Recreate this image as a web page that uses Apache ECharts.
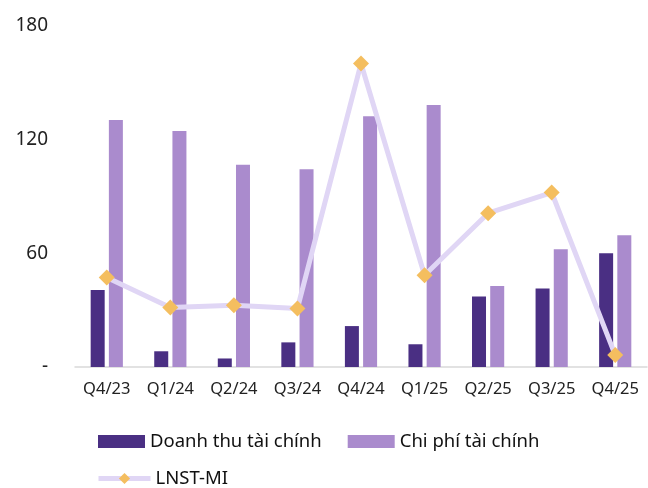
<!DOCTYPE html>
<html>
<head>
<meta charset="utf-8">
<script src="https://cdn.jsdelivr.net/npm/echarts@6/dist/echarts.min.js"></script>
<style>
  html, body { margin: 0; padding: 0; background: #fff; }
  #main { width: 648px; height: 488px; }
</style>
</head>
<body>
<div id="main"></div>
<script>
  // dữ liệu
  const quarters = ['Q4/23', 'Q1/24', 'Q2/24', 'Q3/24', 'Q4/24', 'Q1/25', 'Q2/25', 'Q3/25', 'Q4/25'];
  const doanhThu = [40.7, 8.3, 4.5, 13, 21.6, 12, 37.2, 41.4, 60];
  const chiPhi = [130.4, 124.6, 106.8, 104.4, 132.3, 138.3, 42.8, 62.1, 69.6];
  const lnst = [47.2, 31.4, 32.6, 30.9, 160.2, 48.4, 81.2, 92.1, 6.3];

  const font = '"Noto Sans", sans-serif';
  let myChart = echarts.init(document.getElementById('main'));
  let option = {
    animation: false,
    textStyle: { fontFamily: font },
    grid: { left: 75, right: 1, top: 26, bottom: 121 },
    legend: [
      {
        data: [
          { name: 'Doanh thu tài chính', icon: 'rect' },
          { name: 'Chi phí tài chính', icon: 'rect' }
        ],
        left: 93, top: 427,
        itemWidth: 47, itemHeight: 13, itemGap: 26,
        textStyle: { fontSize: 18.5, color: '#111', fontFamily: font }
      },
      {
        data: ['LNST-MI'],
        left: 91, top: 464,
        itemWidth: 52, itemHeight: 14,
        lineStyle: { width: 5 },
        textStyle: { fontSize: 18.5, color: '#111', fontFamily: font }
      }
    ],
    xAxis: {
      type: 'category',
      data: quarters,
      axisLine: { lineStyle: { color: '#d9d9d9', width: 1.5 } },
      axisTick: { show: false },
      axisLabel: { color: '#222', fontSize: 16.5, margin: 14 }
    },
    yAxis: {
      type: 'value',
      min: 0, max: 180, interval: 60,
      splitLine: { show: false },
      axisLine: { show: false },
      axisLabel: {
        color: '#222', fontSize: 19, margin: 27,
        formatter: v => v === 0 ? '-' : v
      }
    },
    series: [
      {
        name: 'Doanh thu tài chính',
        type: 'bar',
        data: doanhThu,
        barWidth: 14,
        barGap: '30%',
        itemStyle: { color: '#4a2f83' }
      },
      {
        name: 'Chi phí tài chính',
        type: 'bar',
        data: chiPhi,
        barWidth: 14,
        itemStyle: { color: '#aa8bcd' }
      },
      {
        name: 'LNST-MI',
        type: 'line',
        data: lnst,
        symbol: 'diamond',
        symbolSize: 16,
        lineStyle: { color: '#e0d6f5', width: 5 },
        itemStyle: { color: '#f4be5f' }
      }
    ]
  };
  myChart.setOption(option);
</script>
</body>
</html>
